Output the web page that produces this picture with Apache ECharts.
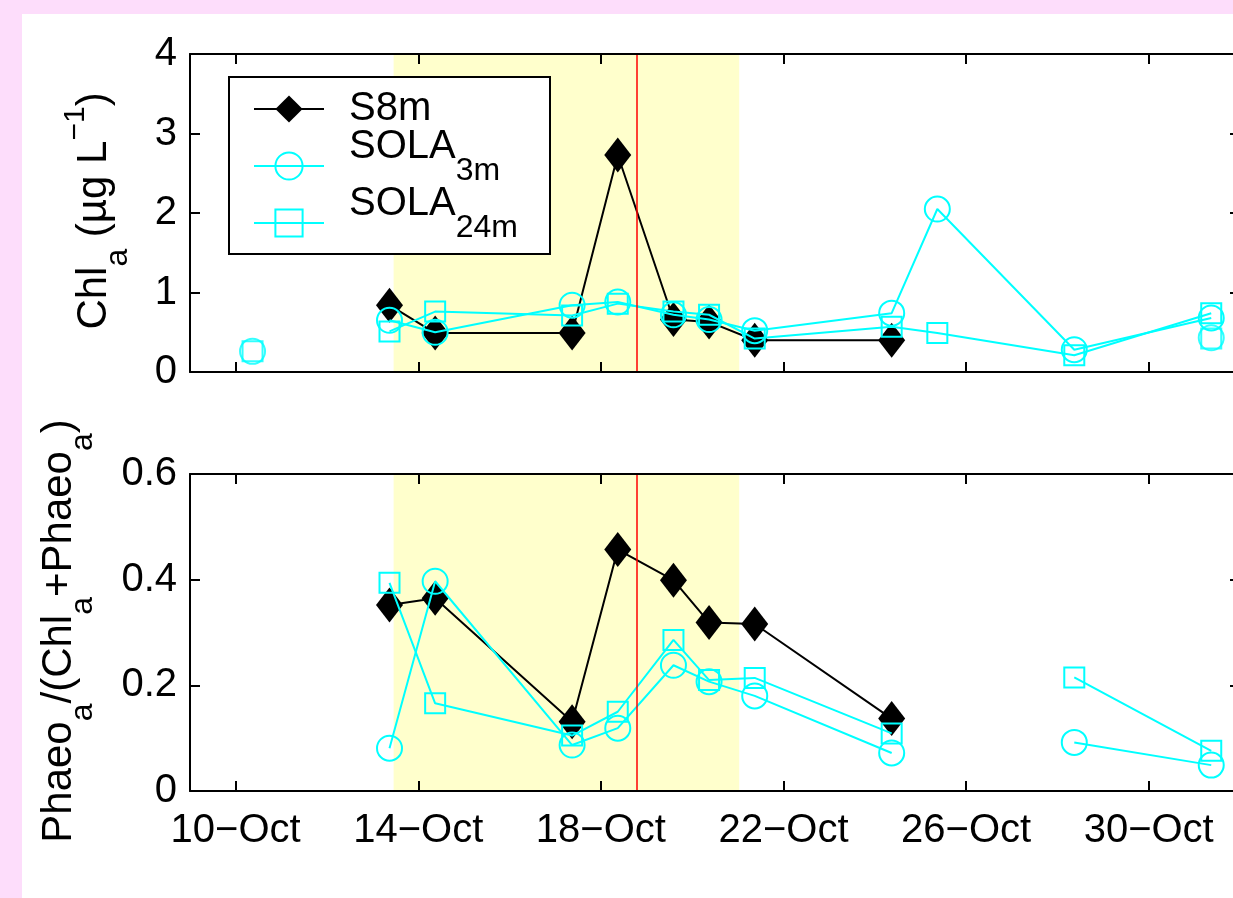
<!DOCTYPE html>
<html><head><meta charset="utf-8">
<script src="https://cdn.jsdelivr.net/npm/echarts@6/dist/echarts.min.js"></script>
<style>
html,body{margin:0;padding:0;background:#FDDDFB;width:1233px;height:898px;overflow:hidden;}
#chart{position:absolute;left:22px;top:14px;width:1211px;height:884px;}
</style></head><body><div id="chart"></div>
<script>
// ---- data ----
const xTickValues = [10, 14, 18, 22, 26, 30];
const xTickLabels = ['10\u2212Oct', '14\u2212Oct', '18\u2212Oct', '22\u2212Oct', '26\u2212Oct', '30\u2212Oct'];
const chlTickMax = 4, chlTickStep = 1;
const ratioTickMax = 0.6, ratioTickStep = 0.2;

const s8mDays = [13.37, 14.37, 17.37, 18.37, 19.59, 20.37, 21.37, 24.37];
const s8mChl = [0.84, 0.49, 0.49, 2.73, 0.66, 0.63, 0.40, 0.40];
const s8mRatio = [0.352, 0.365, 0.131, 0.457, 0.399, 0.319, 0.316, 0.137];

const solaDays = [13.37, 14.37, 17.37, 18.37, 19.59, 20.37, 21.37, 24.37, 25.37, 28.37, 31.37];
const sola3Chl = [0.65, 0.50, 0.84, 0.88, 0.72, 0.66, 0.52, 0.74, 2.05, 0.28, 0.68];
const sola24Chl = [0.51, 0.76, 0.71, 0.86, 0.76, 0.72, 0.42, 0.57, 0.49, 0.21, 0.74];
const sola3Ratio = [0.081, 0.397, 0.087, 0.119, 0.238, 0.207, 0.180, 0.072, null, 0.092, 0.049];
const sola24Ratio = [0.394, 0.166, 0.105, 0.150, 0.286, 0.210, 0.214, 0.109, null, 0.215, 0.076];

const extraDays = [10.37, 31.37];
const sola3ChlExtra = [0.26, 0.43];
const sola24ChlExtra = [0.26, 0.42];

const shadeStart = 13.46, shadeEnd = 21.03, redLineDay = 18.78;
const xMin = 9, xMax = 32;

// ---- chart ----
const FONT = "'Liberation Sans', Arial, Helvetica, sans-serif";
const CYAN = '#00FFFF';
const pairs = (xs, ys) => xs.map((x, i) => [x, ys[i] == null ? '-' : ys[i]]);

function xAx(gridIndex, pos, showLabels) {
  return {
    type: 'value', gridIndex, position: pos, min: xMin, max: xMax, z: 10,
    axisLine: {show: true, onZero: false, lineStyle: {color: '#000', width: 2}},
    axisTick: {show: true, inside: true, length: 10, customValues: xTickValues, lineStyle: {color: '#000', width: 2}},
    axisLabel: {show: showLabels, customValues: xTickValues, margin: 20, color: '#000', fontSize: 40, fontFamily: FONT,
      formatter: v => { const i = xTickValues.indexOf(Math.round(v)); return i >= 0 ? xTickLabels[i] : ''; }},
    splitLine: {show: false}
  };
}
function yAx(gridIndex, pos, max, interval, showLabels) {
  return {
    type: 'value', gridIndex, position: pos, min: 0, max, interval, z: 10,
    axisLine: {show: true, onZero: false, lineStyle: {color: '#000', width: 2}},
    axisTick: {show: true, inside: true, length: 10, lineStyle: {color: '#000', width: 2}},
    axisLabel: {show: showLabels, margin: 13, color: '#000', fontSize: 40, fontFamily: FONT,
      formatter: v => String(Math.round(v * 10) / 10)},
    splitLine: {show: false}
  };
}
function s8m(xi, yi, data) {
  return {name: 'S8m', type: 'line', xAxisIndex: xi, yAxisIndex: yi, data, z: 3,
    symbol: 'diamond', symbolSize: [27, 35], showAllSymbol: true,
    lineStyle: {color: '#000', width: 2}, itemStyle: {color: '#000'}, color: '#000'};
}
function sola(name, symbol, size, xi, yi, data, type) {
  return {name, type: type || 'line', xAxisIndex: xi, yAxisIndex: yi, data, z: 4,
    symbol, symbolSize: size, showAllSymbol: true, color: CYAN,
    lineStyle: {color: CYAN, width: 2},
    itemStyle: {color: 'rgba(0,0,0,0)', borderColor: CYAN, borderWidth: 2}};
}
function shade(xi, yi) {
  return {type: 'line', xAxisIndex: xi, yAxisIndex: yi, data: [], silent: true, z: 1,
    markArea: {silent: true, itemStyle: {color: '#FFFFCC'}, data: [[{xAxis: shadeStart}, {xAxis: shadeEnd}]]},
    markLine: {silent: true, symbol: ['none', 'none'], label: {show: false},
      lineStyle: {color: '#FF0000', width: 1.5, type: 'solid'}, data: [{xAxis: redLineDay}]}};
}

const legendLabels = {
  'S8m': '{m1|S8m}',
  'SOLA3m': '{m|SOLA}{s|3m}',
  'SOLA24m': '{m|SOLA}{s|24m}'
};
const legendRich = {
  m1: {fontSize: 40, verticalAlign: 'middle', fontFamily: FONT, color: '#000', padding: [0, 0, 0, 20]},
  m: {fontSize: 40, verticalAlign: 'middle', fontFamily: FONT, color: '#000', padding: [0, 0, 38, 20]},
  s: {fontSize: 32, verticalAlign: 'middle', fontFamily: FONT, color: '#000', padding: [10, 0, 0, 0]}
};
function leg(name, top) {
  return {data: [name], left: 231, top, orient: 'vertical', padding: 0, itemGap: 0,
    itemWidth: 70, itemHeight: 34, selectedMode: false, z: 12,
    formatter: n => legendLabels[n],
    textStyle: {color: '#000', fontSize: 40, fontFamily: FONT, rich: legendRich}};
}
const titleRich = {
  m: {fontSize: 42, verticalAlign: 'middle', fontFamily: FONT, fill: '#000', color: '#000'},
  s: {fontSize: 32, verticalAlign: 'middle', fontFamily: FONT, fill: '#000', color: '#000', padding: [48, 0, 0, 0]},
  p: {fontSize: 30, verticalAlign: 'middle', fontFamily: FONT, fill: '#000', color: '#000', padding: [0, 0, 37, 0]}
};

const chart = echarts.init(document.getElementById('chart'), null, {renderer: 'canvas'});
chart.setOption({
  backgroundColor: '#ffffff',
  animation: false,
  grid: [
    {left: 168, top: 40, width: 1050, height: 318, outerBoundsMode: 'none', containLabel: false},
    {left: 168, top: 460, width: 1050, height: 317, outerBoundsMode: 'none', containLabel: false}
  ],
  xAxis: [xAx(0, 'bottom', false), xAx(0, 'top', false), xAx(1, 'bottom', true), xAx(1, 'top', false)],
  yAxis: [yAx(0, 'left', chlTickMax, chlTickStep, true), yAx(0, 'right', chlTickMax, chlTickStep, false),
          yAx(1, 'left', ratioTickMax, ratioTickStep, true), yAx(1, 'right', ratioTickMax, ratioTickStep, false)],
  legend: [leg('S8m', 75), leg('SOLA3m', 113), leg('SOLA24m', 170)],
  graphic: {elements: [
    {type: 'rect', z: 11, shape: {x: 207, y: 63, width: 321, height: 177},
      style: {fill: '#fff', stroke: '#000', lineWidth: 2}},
    {type: 'text', x: 72, y: 197, rotation: Math.PI / 2, z: 11,
      style: {text: '{m|Chl}{s|a}{m| (\u00b5g L}{p|\u22121}{m|)}', align: 'center', verticalAlign: 'middle', fill: '#000', rich: titleRich}},
    {type: 'text', x: 37, y: 617, rotation: Math.PI / 2, z: 11,
      style: {text: '{m|Phaeo}{s|a}{m|/(Chl}{s|a}{m|+Phaeo}{s|a}{m|)}', align: 'center', verticalAlign: 'middle', fill: '#000', rich: titleRich}}
  ]},
  series: [
    shade(0, 0), shade(2, 2),
    s8m(0, 0, pairs(s8mDays, s8mChl)),
    sola('SOLA3m', 'circle', 25, 0, 0, pairs(solaDays, sola3Chl)),
    sola('SOLA24m', 'rect', 20, 0, 0, pairs(solaDays, sola24Chl)),
    sola('SOLA3m extra', 'circle', 25, 0, 0, pairs(extraDays, sola3ChlExtra), 'scatter'),
    sola('SOLA24m extra', 'rect', 20, 0, 0, pairs(extraDays, sola24ChlExtra), 'scatter'),
    s8m(2, 2, pairs(s8mDays, s8mRatio)),
    sola('SOLA3m', 'circle', 25, 2, 2, pairs(solaDays, sola3Ratio)),
    sola('SOLA24m', 'rect', 20, 2, 2, pairs(solaDays, sola24Ratio))
  ]
});
</script></body></html>
